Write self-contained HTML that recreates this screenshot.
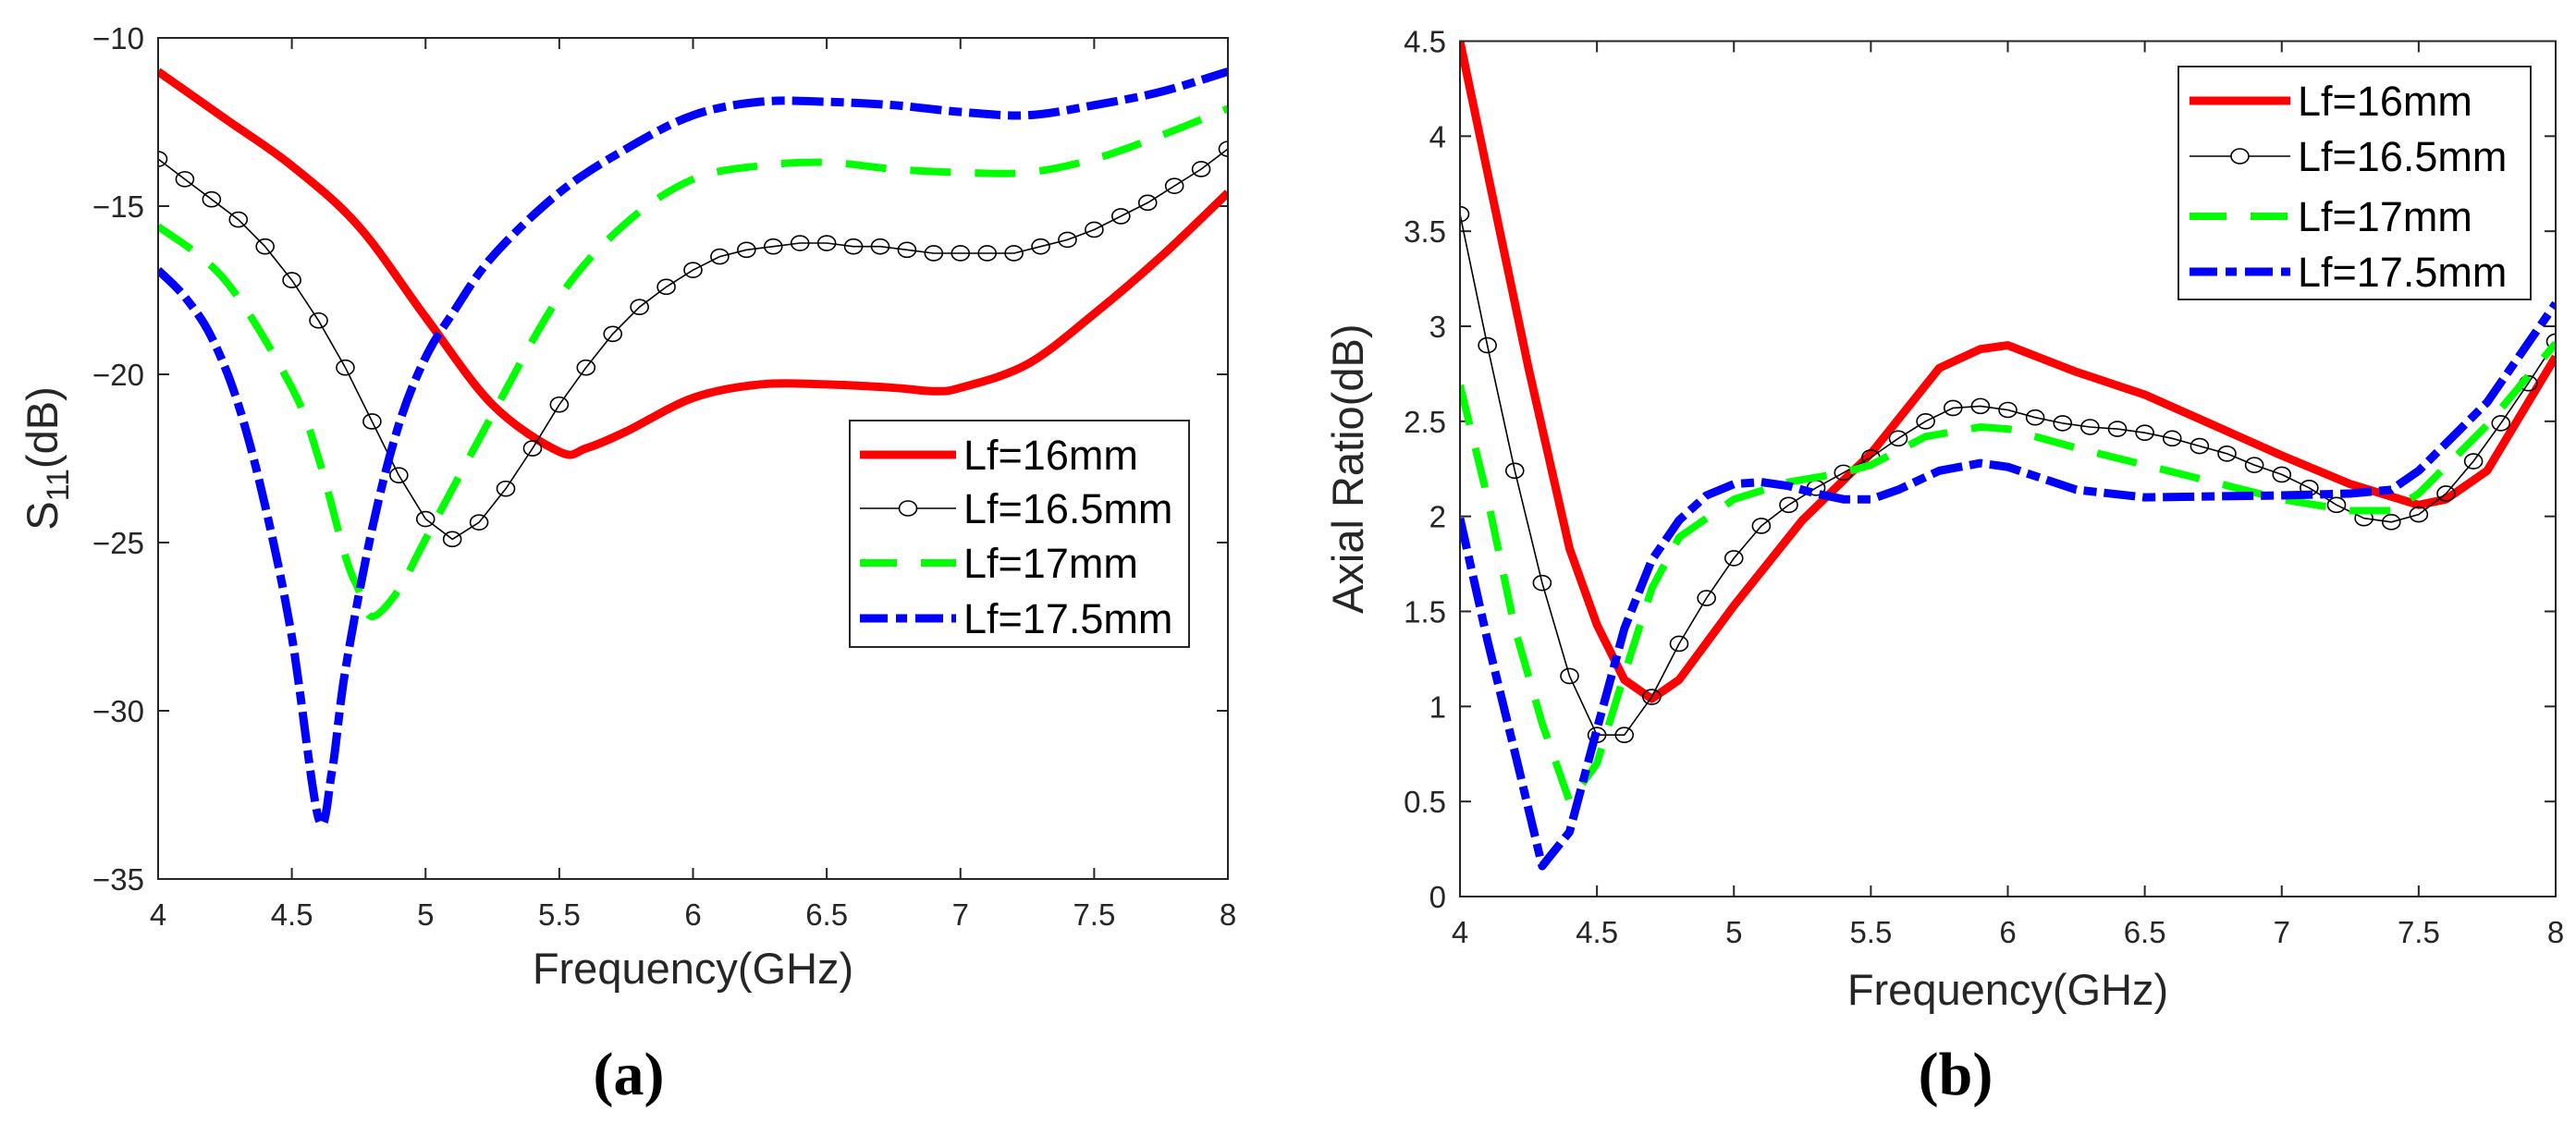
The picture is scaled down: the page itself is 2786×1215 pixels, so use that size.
<!DOCTYPE html>
<html><head><meta charset="utf-8"><style>
html,body{margin:0;padding:0;background:#fff}
svg{display:block}
text{font-family:"Liberation Sans",Arial,sans-serif;fill:#262626}
</style></head><body>
<svg id="fig" width="2786" height="1215" viewBox="0 0 2786 1215" xmlns="http://www.w3.org/2000/svg">
<g id="pa"></g>
<g id="pb"></g>
<text x="680" y="1184" font-size="66" font-weight="bold" text-anchor="middle" style="font-family:'Liberation Serif',serif;fill:#000">(a)</text>
<text x="2115" y="1184" font-size="66" font-weight="bold" text-anchor="middle" style="font-family:'Liberation Serif',serif;fill:#000">(b)</text>
</svg>
<script>
// ---- chart (a) data: S11 ----
const freqTicks = [4,4.5,5,5.5,6,6.5,7,7.5,8];
const freqTickLabels = ["4","4.5","5","5.5","6","6.5","7","7.5","8"];
const s11Ticks = [-10,-15,-20,-25,-30,-35];
const s11TickLabels = ["-10","-15","-20","-25","-30","-35"];
const s11RedF = [4,4.25,4.5,4.75,5,5.25,5.5,5.6,5.75,6,6.25,6.5,6.75,6.9,7,7.25,7.5,7.75,8];
const s11RedV = [-11.0,-12.4,-13.8,-15.6,-18.3,-20.9,-22.3,-22.2,-21.7,-20.7,-20.3,-20.3,-20.4,-20.5,-20.4,-19.7,-18.2,-16.5,-14.6];
const s11BlackV = [-13.6,-14.2,-14.8,-15.4,-16.2,-17.2,-18.4,-19.8,-21.4,-23.0,-24.3,-24.9,-24.4,-23.4,-22.2,-20.9,-19.8,-18.8,-18.0,-17.4,-16.9,-16.5,-16.3,-16.2,-16.1,-16.1,-16.2,-16.2,-16.3,-16.4,-16.4,-16.4,-16.4,-16.2,-16.0,-15.7,-15.3,-14.9,-14.4,-13.9,-13.3];
const s11GreenF = [4,4.25,4.5,4.6,4.7,4.75,4.8,4.9,5,5.25,5.5,5.75,6,6.25,6.5,6.75,7,7.25,7.5,7.75,8];
const s11GreenV = [-15.6,-17.2,-20.4,-22.5,-25.4,-26.4,-27.2,-26.4,-24.9,-21.2,-17.7,-15.5,-14.2,-13.8,-13.7,-13.9,-14.0,-14.0,-13.6,-12.9,-12.1];
const s11BlueF = [4,4.1,4.2,4.3,4.4,4.5,4.6,4.65,4.7,4.8,4.9,5,5.1,5.25,5.5,5.75,6,6.25,6.5,6.75,7,7.25,7.5,7.75,8];
const s11BlueV = [-16.9,-17.7,-18.9,-20.9,-23.9,-27.8,-33.2,-31.8,-28.8,-24.6,-21.5,-19.5,-18.2,-16.5,-14.6,-13.3,-12.3,-11.9,-11.9,-12.0,-12.2,-12.3,-12.0,-11.6,-11.0];
// ---- chart (b) data: Axial ratio ----
const arTicks = [0,0.5,1,1.5,2,2.5,3,3.5,4,4.5];
const arTickLabels = ["0","0.5","1","1.5","2","2.5","3","3.5","4","4.5"];
const arRedF = [4,4.25,4.4,4.5,4.6,4.7,4.8,5,5.25,5.5,5.75,5.9,6,6.25,6.5,6.75,7,7.25,7.5,7.6,7.75,8];
const arRedV = [4.5,2.78,1.83,1.43,1.14,1.04,1.14,1.53,1.98,2.33,2.78,2.88,2.90,2.76,2.64,2.48,2.32,2.17,2.06,2.09,2.24,2.84];
const arBlackV = [3.59,2.90,2.24,1.65,1.16,0.85,0.85,1.05,1.33,1.57,1.78,1.95,2.06,2.15,2.23,2.31,2.41,2.50,2.57,2.58,2.56,2.52,2.49,2.47,2.46,2.44,2.41,2.37,2.33,2.27,2.22,2.15,2.06,1.99,1.97,2.01,2.12,2.29,2.49,2.70,2.92];
const arGreenF = [4,4.1,4.2,4.3,4.4,4.5,4.6,4.7,4.8,5,5.2,5.4,5.5,5.7,5.9,6,6.25,6.5,6.75,7,7.25,7.4,7.5,7.75,8];
const arGreenV = [2.69,2.1,1.41,0.91,0.50,0.70,1.17,1.62,1.89,2.09,2.18,2.23,2.27,2.42,2.47,2.46,2.36,2.27,2.18,2.09,2.03,2.03,2.12,2.48,2.91];
const arBlueF = [4,4.1,4.2,4.3,4.4,4.5,4.6,4.7,4.8,4.9,5,5.1,5.2,5.3,5.4,5.5,5.6,5.75,5.9,6,6.25,6.5,7,7.25,7.4,7.5,7.75,8];
const arBlueV = [1.99,1.35,0.76,0.16,0.34,0.88,1.41,1.77,1.98,2.11,2.17,2.18,2.16,2.12,2.09,2.09,2.14,2.24,2.28,2.26,2.14,2.10,2.11,2.12,2.14,2.24,2.60,3.12];
const markerF = []; for (let i=0;i<=40;i++) markerF.push(+(4+i*0.1).toFixed(1));
const legendLabels = ["Lf=16mm","Lf=16.5mm","Lf=17mm","Lf=17.5mm"];

const NS="http://www.w3.org/2000/svg";
function mk(parent,tag,attrs){const e=document.createElementNS(NS,tag);for(const k in attrs)e.setAttribute(k,attrs[k]);parent.appendChild(e);return e;}

function path(xs,ys,sx,sy,smooth){
  const p=xs.map((x,i)=>[sx(x),sy(ys[i])]);
  if(!smooth) return "M"+p.map(q=>q[0].toFixed(1)+","+q[1].toFixed(1)).join("L");
  let d="M"+p[0][0]+","+p[0][1];
  for(let i=0;i<p.length-1;i++){
    const p0=p[Math.max(0,i-1)],p1=p[i],p2=p[i+1],p3=p[Math.min(p.length-1,i+2)];
    const c1=[p1[0]+(p2[0]-p0[0])/6,p1[1]+(p2[1]-p0[1])/6];
    const c2=[p2[0]-(p3[0]-p1[0])/6,p2[1]-(p3[1]-p1[1])/6];
    d+="C"+c1.join(",")+" "+c2.join(",")+" "+p2.join(",");
  }
  return d;
}

const styles=[
  {stroke:"#ff0000",w:9,dash:null},
  {stroke:"#000000",w:1.6,dash:null},
  {stroke:"#00ff00",w:8,dash:"44,26"},
  {stroke:"#0000ff",w:9,dash:"34,8,14,8"}
];

function chart(g,cfg){
  const {x0,x1,y0,y1,ymin,ymax}=cfg;
  const sx=f=>x0+(f-4)/4*(x1-x0);
  const sy=v=>y1-(v-ymin)/(ymax-ymin)*(y1-y0);
  const clipId=g.id+"clip";
  const cp=mk(g,"clipPath",{id:clipId}); mk(cp,"rect",{x:x0,y:y0-2,width:x1-x0,height:y1-y0+4});
  const ax=mk(g,"g",{});  
  freqTicks.forEach((f,i)=>{
    const x=sx(f);
    mk(ax,"line",{x1:x,x2:x,y1:y1,y2:y1-12,stroke:"#262626","stroke-width":2});
    mk(ax,"line",{x1:x,x2:x,y1:y0,y2:y0+12,stroke:"#262626","stroke-width":2});
    const t=mk(ax,"text",{x:x,y:y1+50,"font-size":33,"text-anchor":"middle"});
    t.textContent=freqTickLabels[i];
    
    
  });
  cfg.yt.forEach((v,i)=>{
    const y=sy(v);
    mk(ax,"line",{x1:x0,x2:x0+12,y1:y,y2:y,stroke:"#262626","stroke-width":2});
    mk(ax,"line",{x1:x1,x2:x1-12,y1:y,y2:y,stroke:"#262626","stroke-width":2});
    const t=mk(ax,"text",{x:x0-15,y:y+12,"font-size":33,"text-anchor":"end"});
    t.textContent=cfg.ytl[i].replace("-","\u2212");
    
    
  });
  const plot=mk(g,"g",{"clip-path":"url(#"+clipId+")"});
  cfg.series.forEach((s,k)=>{
    const st=styles[k];
    const p=mk(plot,"path",{d:path(s.f,s.v,sx,sy,cfg.smooth&&k!==1),fill:"none",stroke:st.stroke,"stroke-width":st.w,"stroke-linejoin":"round"});
    if(st.dash)p.setAttribute("stroke-dasharray",st.dash);
    
    
    if(k===1){
      s.f.forEach((f,i)=>{
        const c=mk(plot,"ellipse",{cx:sx(f),cy:sy(s.v[i]),rx:9.5,ry:8,fill:"none",stroke:"#000","stroke-width":1.6});
        
        
      });
    }
  });
  const box=mk(g,"rect",{x:x0,y:y0,width:x1-x0,height:y1-y0,fill:"none",stroke:"#262626","stroke-width":2});
  
  
  const xt=mk(g,"text",{x:(x0+x1)/2,y:cfg.xtY,"font-size":47,"text-anchor":"middle"});
  xt.textContent="Frequency(GHz)";
  
  
  const yt=mk(g,"text",{x:0,y:0,"font-size":47,"text-anchor":"middle",transform:"translate("+cfg.ytX+","+((y0+y1)/2)+") rotate(-90)"});
  
  
  if(cfg.s11){yt.innerHTML='S<tspan font-size="34" dy="12">11</tspan><tspan dy="-12">(dB)</tspan>';}
  else yt.textContent="Axial Ratio(dB)";
  const L=cfg.leg;
  const lg=mk(g,"g",{});  
  mk(lg,"rect",{x:L.x,y:L.y,width:L.w,height:L.h,fill:"#fff",stroke:"#262626","stroke-width":2});
  L.rows.forEach((ry,k)=>{
    const st=styles[k];
    const e=mk(lg,"g",{});  
    const ln=mk(e,"line",{x1:L.lx0,x2:L.lx1,y1:ry,y2:ry,stroke:st.stroke,"stroke-width":st.w});
    if(k===2)ln.setAttribute("stroke-dasharray","40,26");
    if(k===3)ln.setAttribute("stroke-dasharray","30,9,12,9");
    if(k===1)mk(e,"ellipse",{cx:(L.lx0+L.lx1)/2,cy:ry,rx:9.5,ry:8,fill:"#fff",stroke:"#000","stroke-width":1.6});
    const t=mk(e,"text",{x:L.tx,y:ry+16,"font-size":45,style:"fill:#000"});
    t.textContent=legendLabels[k];
  });
}

chart(document.getElementById("pa"),{x0:171,x1:1328,y0:41,y1:951,ymin:-35,ymax:-10,yt:s11Ticks,ytl:s11TickLabels,smooth:true,s11:true,
  xtY:1064,ytX:62,
  series:[{f:s11RedF,v:s11RedV},{f:markerF,v:s11BlackV},{f:s11GreenF,v:s11GreenV},{f:s11BlueF,v:s11BlueV}],
  leg:{x:919,y:455,w:367,h:245,rows:[492,550,609,669],lx0:930,lx1:1034,tx:1042}});
chart(document.getElementById("pb"),{x0:1579,x1:2764,y0:44.5,y1:970,ymin:0,ymax:4.5,yt:arTicks,ytl:arTickLabels,smooth:false,s11:false,
  xtY:1087,ytX:1474,
  series:[{f:arRedF,v:arRedV},{f:markerF,v:arBlackV},{f:arGreenF,v:arGreenV},{f:arBlueF,v:arBlueV}],
  leg:{x:2356,y:72,w:381,h:252,rows:[109,169,234,294],lx0:2368,lx1:2477,tx:2485}});
</script>
</body></html>
